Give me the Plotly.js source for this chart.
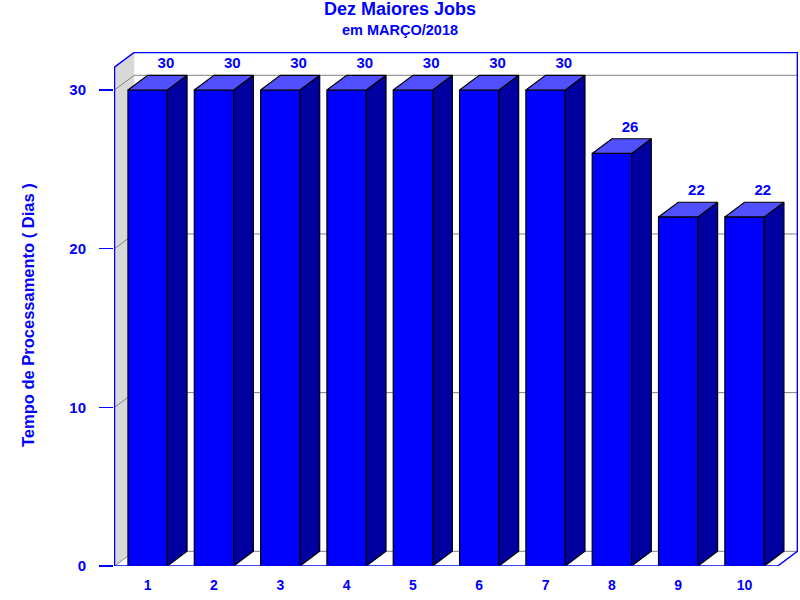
<!DOCTYPE html>
<html>
<head>
<meta charset="utf-8">
<script src="https://cdn.plot.ly/plotly-3.0.1.min.js"></script>
<style>html,body{margin:0;padding:0;background:#fff}#g{width:800px;height:600px}</style>
</head>
<body>
<div id="g"></div>
<script>
const categories = [1, 2, 3, 4, 5, 6, 7, 8, 9, 10];
const tickLabels = ['1', '2', '3', '4', '5', '6', '7', '8', '9', '10'];
const values = [30, 30, 30, 30, 30, 30, 30, 26, 22, 22];
const yTicks = [0, 10, 20, 30];

const BLUE = '#0000ff', GRID = '#808080', FONT = '"Liberation Sans", Arial, sans-serif';
const pxX = 66.32, pxY = 15.867;
const dx = 19.7 / pxX, dy = 14.7 / pxY;     // oblique depth in data units
const halfW = 0.297;
const xMin = 0.5, xMax = 10.5, yTop = 31.44;
const xRange = [xMin - 0.5 / pxX, xMin + 683.5 / pxX];
const yRange = [0, 514 / pxY];

function poly(list) {
  const xs = [], ys = [];
  list.forEach(p => {
    p.forEach(q => { xs.push(q[0]); ys.push(q[1]); });
    xs.push(p[0][0]); ys.push(p[0][1]);
    xs.push(null); ys.push(null);
  });
  return {x: xs, y: ys};
}

const tops = poly(categories.map((c, i) => {
  const l = c - halfW, r = c + halfW, v = values[i];
  return [[l, v], [r, v], [r + dx, v + dy], [l + dx, v + dy]];
}));
const sides = poly(categories.map((c, i) => {
  const r = c + halfW, v = values[i];
  return [[r, 0], [r, v], [r + dx, v + dy], [r + dx, dy]];
}));

const gridShapes = [];
gridShapes.push({type: 'path', layer: 'below', xref: 'x', yref: 'y',
  path: `M ${xMin} 0 L ${xMin} ${yTop} L ${xMin + dx} ${yTop + dy} L ${xMin + dx} ${dy} Z`,
  fillcolor: '#d8d8d8', line: {width: 0}});
yTicks.forEach(t => {
  gridShapes.push({type: 'path', layer: 'below', xref: 'x', yref: 'y',
    path: `M ${xMin} ${t} L ${xMin + dx} ${t + dy} L ${xMax + dx} ${t + dy}`,
    line: {color: GRID, width: 1}});
});

const frame = {
  x: [xMin, xMin, xMin + dx, xMax + dx, xMax + dx, xMax, xMin],
  y: [0, yTop, yTop + dy, yTop + dy, dy, 0, 0]
};

const traces = [
  {type: 'bar', x: categories, y: values, width: 2 * halfW,
   marker: {color: BLUE, line: {color: '#000', width: 1.2}}, hoverinfo: 'skip'},
  {type: 'scatter', mode: 'lines', x: sides.x, y: sides.y, fill: 'toself', fillcolor: '#0000a0',
   line: {color: '#000', width: 1.2}, hoverinfo: 'skip'},
  {type: 'scatter', mode: 'lines', x: tops.x, y: tops.y, fill: 'toself', fillcolor: '#5050ff',
   line: {color: '#000', width: 1.2}, hoverinfo: 'skip'},
  {type: 'scatter', mode: 'lines', x: frame.x, y: frame.y, cliponaxis: false,
   line: {color: BLUE, width: 1.5}, hoverinfo: 'skip'},
  {type: 'scatter', mode: 'text', x: categories.map(c => c + 0.275), y: values.map(v => v + 1.61),
   text: values.map(String), textposition: 'middle center',
   textfont: {family: FONT, size: 15, color: BLUE, weight: 700}, cliponaxis: false, hoverinfo: 'skip'}
];

const layout = {
  width: 800, height: 600, showlegend: false,
  paper_bgcolor: '#fff', plot_bgcolor: '#fff',
  margin: {l: 114, r: 2, t: 52, b: 34, pad: 0},
  title: {text: 'Dez Maiores Jobs', x: 0.5, xanchor: 'center', y: 0.985, yanchor: 'middle',
          font: {family: FONT, size: 18, color: BLUE, weight: 700}},
  xaxis: {range: xRange, tickmode: 'array', tickvals: categories, ticktext: tickLabels,
          showgrid: false, zeroline: false, showline: false, ticks: '', ticklabelstandoff: 9,
          tickfont: {family: FONT, size: 14, color: BLUE, weight: 700}},
  yaxis: {range: yRange, tickmode: 'array', tickvals: yTicks,
          showgrid: false, zeroline: false, showline: false, ticks: 'outside', ticklen: 14,
          tickcolor: BLUE, tickwidth: 1.5, ticklabelstandoff: 10,
          tickfont: {family: FONT, size: 15, color: BLUE, weight: 700}},
  shapes: gridShapes,
  annotations: [
    {text: 'em MARÇO/2018', xref: 'paper', yref: 'paper', x: (400 - 114) / 684, y: (566 - 30) / 514,
     xanchor: 'center', yanchor: 'middle', showarrow: false,
     font: {family: FONT, size: 14.5, color: BLUE, weight: 700}},
    {text: 'Tempo de Processamento ( Dias )', xref: 'paper', yref: 'paper', x: (28 - 114) / 684, y: (566 - 315) / 514,
     xanchor: 'center', yanchor: 'middle', textangle: -90, showarrow: false,
     font: {family: FONT, size: 16.5, color: BLUE, weight: 700}}
  ]
};
Plotly.newPlot('g', traces, layout, {displayModeBar: false, staticPlot: true});
</script>
</body>
</html>
